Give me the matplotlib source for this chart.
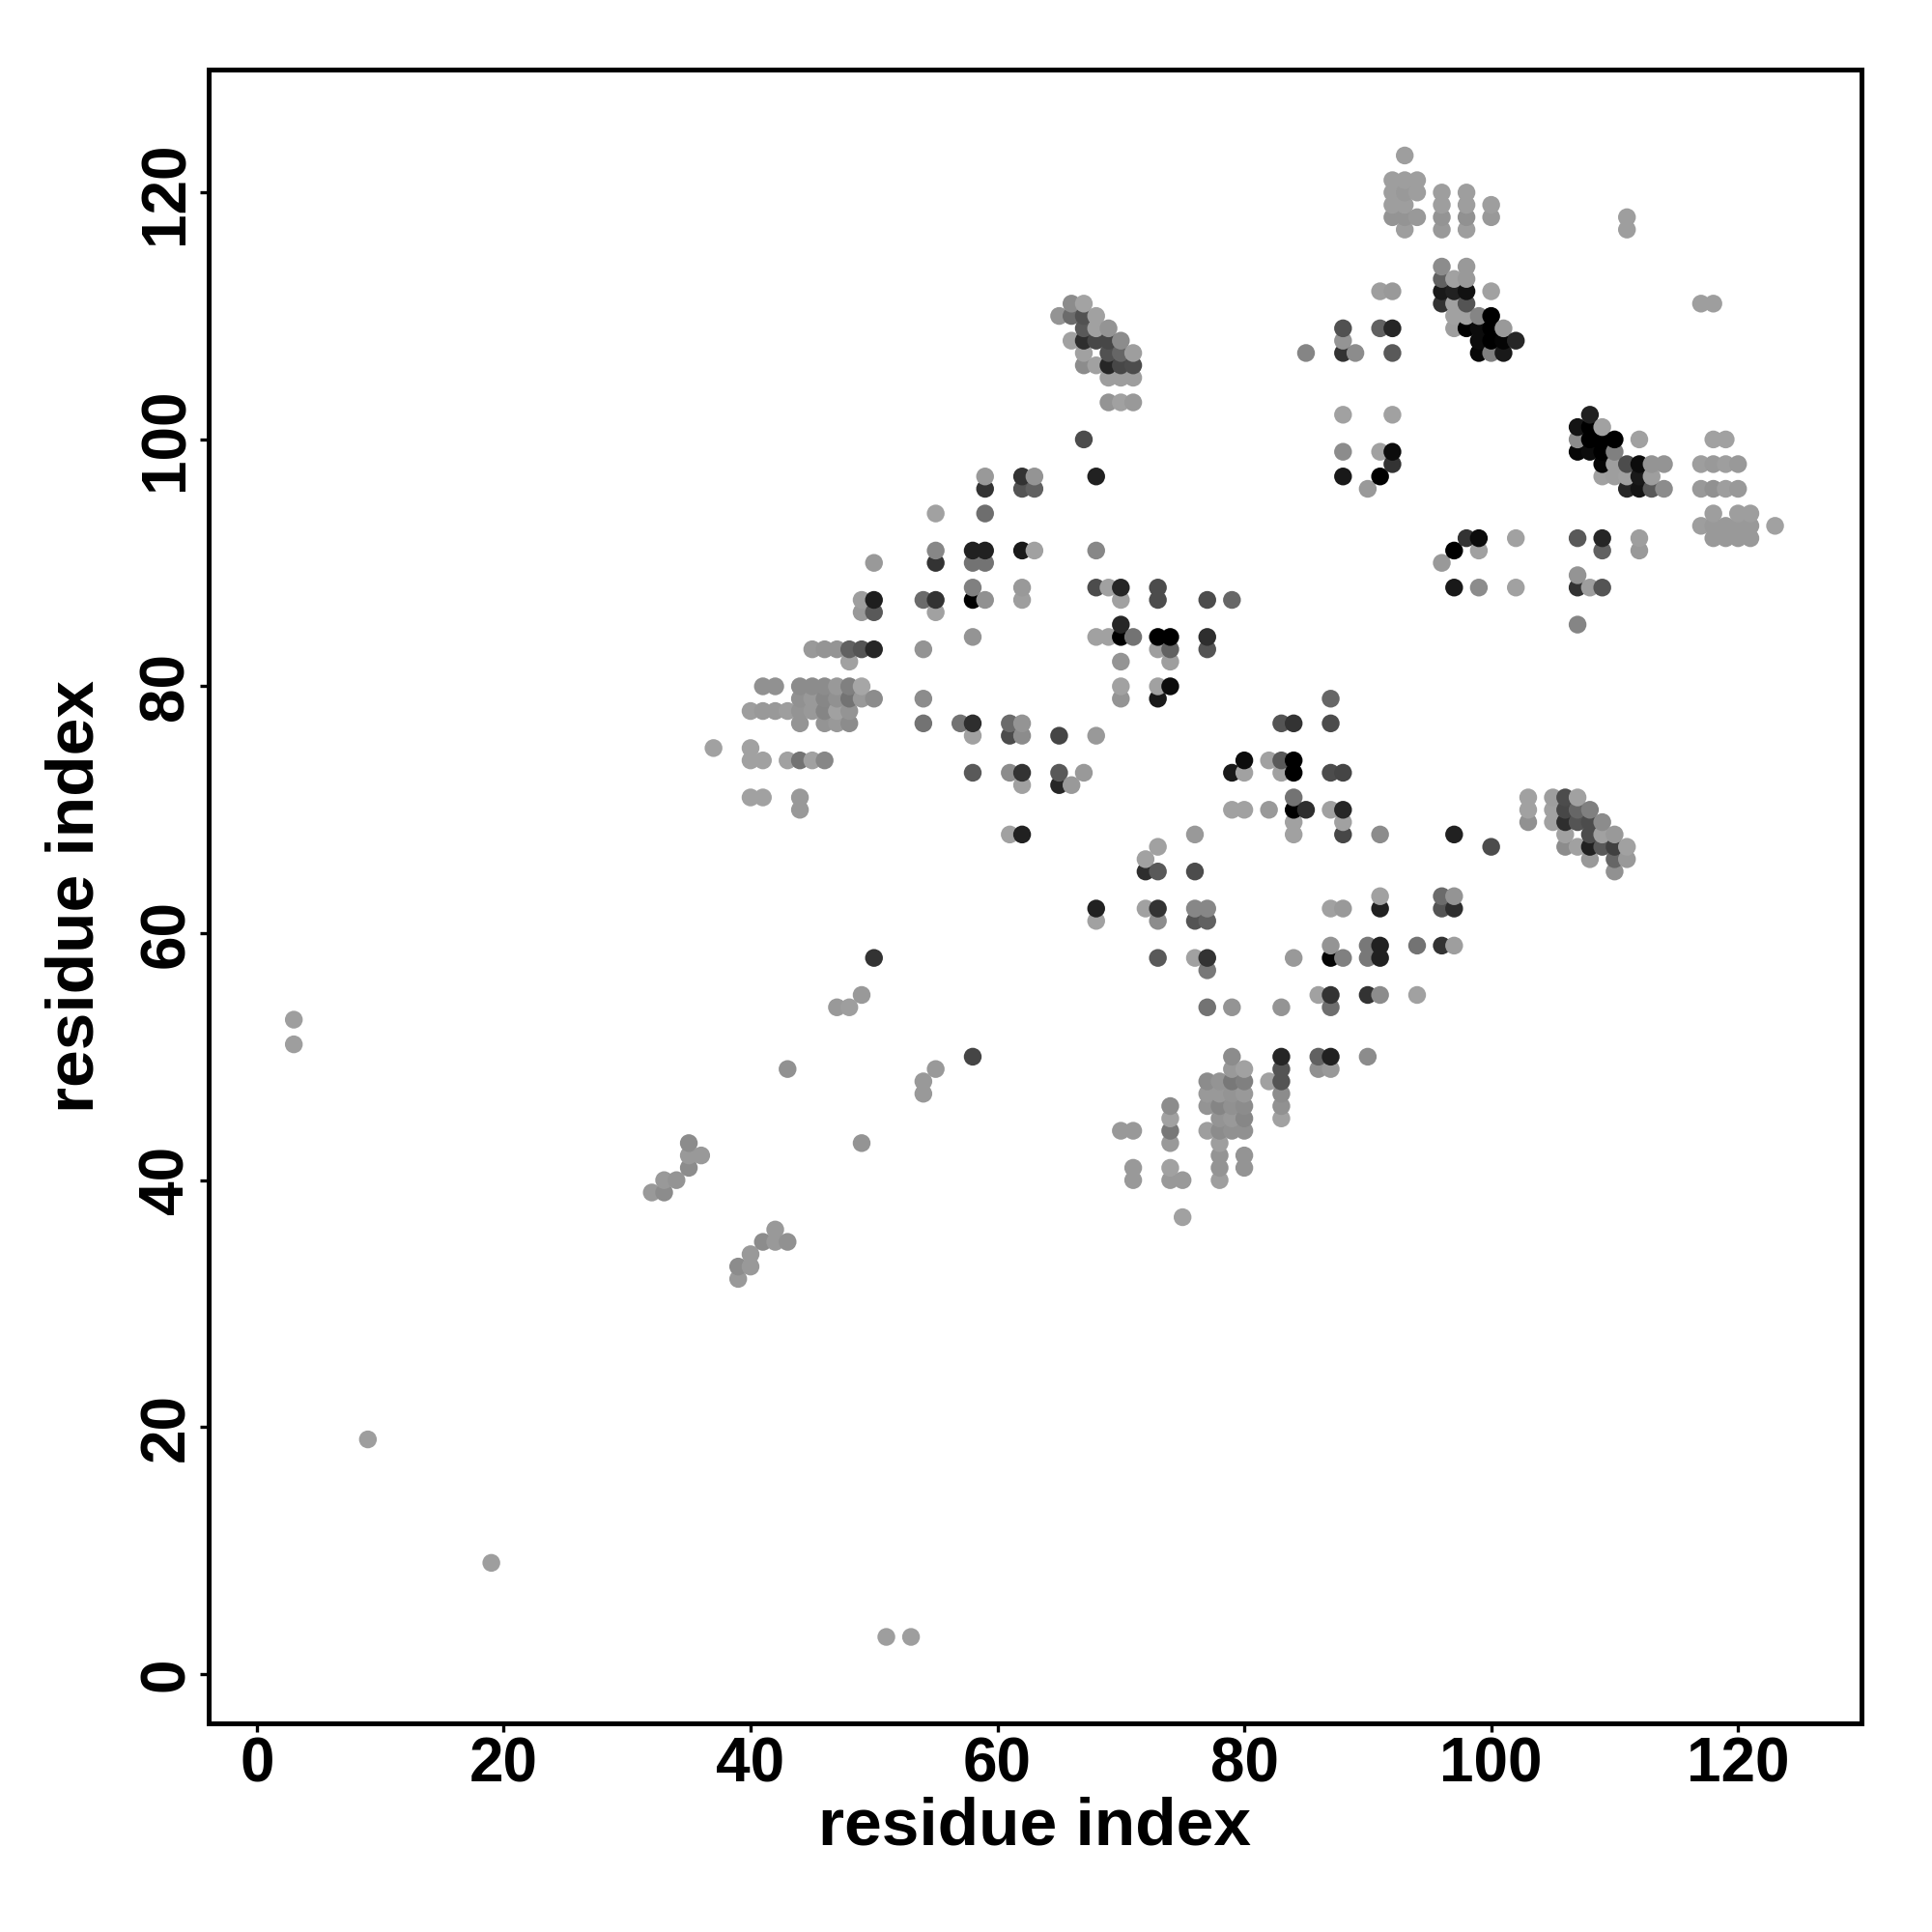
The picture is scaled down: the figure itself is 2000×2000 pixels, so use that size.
import numpy as np
import matplotlib
matplotlib.use("Agg")
import matplotlib.pyplot as plt

plt.rcParams["font.family"] = ["Liberation Sans", "DejaVu Sans"]
plt.rcParams["font.weight"] = "bold"

TICKS = [0, 20, 40, 60, 80, 100, 120]
AXIS_LABEL = "residue index"

# (residue i, residue j, grey level)
contacts_far = [
    (3, 53, .62), (3, 51, .62), (9, 19, .62), (19, 9, .62), (51, 3, .62), (53, 3, .62),
    (50, 58, .2), (58, 50, .27), (43, 49, .57), (47, 54, .6), (48, 54, .62), (49, 55, .6),
    (55, 49, .6), (54, 48, .6), (54, 47, .6), (49, 43, .58),
    (35, 43, .55), (35, 42, .6), (36, 42, .6), (35, 41, .55), (33, 40, .6), (34, 40, .58),
    (32, 39, .6), (33, 39, .55), (42, 36, .6), (41, 35, .55), (42, 35, .6), (43, 35, .57),
    (40, 34, .6), (39, 33, .55), (40, 33, .6), (39, 32, .6),
]
contacts_helix_a = [
    (49, 87, .62), (49, 86, .6), (50, 87, .12), (50, 86, .35), (50, 90, .6),
    (45, 83, .6), (46, 83, .58), (47, 83, .58), (48, 83, .38), (49, 83, .33), (50, 83, .15),
    (48, 82, .63), (41, 80, .57), (42, 80, .57), (44, 80, .55), (45, 80, .55), (46, 80, .55),
    (47, 80, .6), (48, 80, .5), (49, 80, .65), (44, 79, .57), (45, 79, .6), (46, 79, .53),
    (47, 79, .57), (48, 79, .45), (49, 79, .6), (50, 79, .55), (40, 78, .62), (41, 78, .6),
    (42, 78, .6), (43, 78, .62), (44, 78, .58), (45, 78, .6), (46, 78, .52), (47, 78, .63),
    (48, 78, .58), (44, 77, .58), (46, 77, .58), (47, 77, .6), (48, 77, .55),
    (37, 75, .63), (40, 75, .63), (40, 74, .63), (41, 74, .63), (43, 74, .63), (44, 74, .45),
    (45, 74, .63), (46, 74, .53), (40, 71, .63), (41, 71, .63), (44, 71, .6), (44, 70, .6),
]
contacts_mid_a = [
    (54, 87, .42), (55, 87, .2), (55, 86, .63), (58, 87, .0), (59, 87, .57), (62, 87, .62),
    (58, 84, .58), (54, 83, .58), (54, 79, .55), (54, 77, .45), (57, 77, .45), (58, 77, .18),
    (61, 77, .42), (62, 77, .58), (58, 76, .63), (61, 76, .3), (62, 76, .55), (65, 76, .27),
    (58, 73, .35), (61, 73, .55), (62, 73, .2), (65, 73, .35), (67, 73, .6), (62, 72, .63),
    (65, 72, .15), (66, 72, .6), (61, 68, .63), (62, 68, .13), (59, 97, .6), (62, 97, .2),
    (63, 97, .58), (59, 96, .2), (62, 96, .33), (63, 96, .38), (55, 94, .63), (59, 94, .43),
    (55, 91, .53), (58, 91, .13), (59, 91, .13), (62, 91, .1), (63, 91, .63), (55, 90, .2),
    (58, 90, .45), (59, 90, .45), (58, 88, .5), (62, 88, .6),
    (67, 100, .3), (68, 97, .13), (68, 91, .53), (68, 88, .3), (69, 88, .63), (70, 88, .15),
    (73, 88, .3), (70, 87, .63), (73, 87, .3), (77, 87, .3), (79, 87, .4), (70, 85, .15),
    (68, 84, .63), (69, 84, .63), (70, 84, .0), (71, 84, .45), (73, 84, .0), (74, 84, .0),
    (77, 84, .18), (73, 83, .62), (74, 83, .38), (77, 83, .33), (70, 82, .58), (74, 82, .62),
    (70, 80, .63), (73, 80, .63), (74, 80, .05), (70, 79, .58), (73, 79, .1), (68, 76, .6),
]
contacts_hairpin_a = [
    (66, 111, .55), (67, 111, .64), (65, 110, .58), (66, 110, .42), (67, 110, .32),
    (68, 110, .63), (67, 109, .35), (68, 109, .63), (69, 109, .58), (66, 108, .63),
    (67, 108, .18), (68, 108, .28), (69, 108, .28), (70, 108, .55), (67, 107, .63),
    (69, 107, .32), (70, 107, .4), (71, 107, .62), (67, 106, .55), (68, 106, .63),
    (69, 106, .15), (70, 106, .28), (71, 106, .3), (69, 105, .62), (70, 105, .62),
    (71, 105, .62), (69, 103, .58), (70, 103, .63), (71, 103, .6),
]
contacts_top = [
    (93, 123, .62), (92, 121, .62), (93, 121, .62), (94, 121, .62), (92, 120, .62),
    (93, 120, .6), (94, 120, .62), (96, 120, .62), (98, 120, .62), (92, 119, .62),
    (93, 119, .62), (96, 119, .62), (98, 119, .62), (100, 119, .62), (92, 118, .58),
    (93, 118, .58), (94, 118, .6), (96, 118, .58), (98, 118, .57), (100, 118, .6),
    (93, 117, .62), (96, 117, .6), (98, 117, .62), (111, 118, .62), (111, 117, .62),
    (117, 111, .62), (118, 111, .62),
    (96, 114, .55), (98, 114, .6), (96, 113, .38), (97, 113, .63), (98, 113, .6),
    (91, 112, .62), (92, 112, .6), (96, 112, .1), (97, 112, .13), (98, 112, .07),
    (100, 112, .63), (96, 111, .2), (97, 111, .63), (98, 111, .33), (97, 110, .63),
    (98, 110, .63), (99, 110, .52), (100, 110, .0), (88, 109, .32), (91, 109, .38),
    (92, 109, .15), (97, 109, .62), (98, 109, .0), (99, 109, .05), (100, 109, .0),
    (101, 109, .6), (88, 108, .58), (99, 108, .05), (100, 108, .0), (101, 108, .02),
    (102, 108, .15), (85, 107, .52), (88, 107, .2), (89, 107, .55), (92, 107, .35),
    (99, 107, .03), (100, 107, .5), (101, 107, .1),
]
contacts_upper_right = [
    (88, 102, .63), (92, 102, .63), (88, 99, .55), (91, 99, .63), (92, 99, .05), (92, 98, .2),
    (88, 97, .1), (91, 97, .0), (90, 96, .6), (108, 102, .13), (107, 101, .08), (108, 101, .0),
    (109, 101, .63), (107, 100, .55), (108, 100, .0), (109, 100, .0), (110, 100, .0),
    (112, 100, .63), (107, 99, .03), (108, 99, .05), (109, 99, .0), (110, 99, .5),
    (109, 98, .02), (110, 98, .62), (111, 98, .3), (112, 98, .05), (113, 98, .58),
    (114, 98, .58), (109, 97, .63), (110, 97, .62), (111, 97, .63), (112, 97, .1),
    (113, 97, .62), (111, 96, .15), (112, 96, .08), (113, 96, .35), (114, 96, .55),
    (118, 100, .63), (119, 100, .63), (117, 98, .62), (118, 98, .6), (119, 98, .62),
    (120, 98, .6), (117, 96, .6), (118, 96, .57), (119, 96, .62), (120, 96, .6),
    (118, 94, .62), (120, 94, .62), (121, 94, .62), (117, 93, .62), (118, 93, .6),
    (119, 93, .6), (120, 93, .6), (121, 93, .6), (123, 93, .63), (118, 92, .6), (119, 92, .6),
    (120, 92, .6), (121, 92, .6), (98, 92, .2), (99, 92, .05), (102, 92, .63), (97, 91, .0),
    (99, 91, .63), (96, 90, .6), (97, 88, .1), (99, 88, .55), (102, 88, .63), (107, 92, .35),
    (109, 92, .15), (112, 92, .62), (109, 91, .38), (112, 91, .6), (107, 89, .58),
    (107, 88, .2), (108, 88, .62), (109, 88, .33), (107, 85, .52),
]
contacts_mid_b = [
    (87, 79, .4), (83, 77, .33), (84, 77, .2), (87, 77, .3), (80, 74, .05), (82, 74, .63),
    (83, 74, .35), (84, 74, .0), (79, 73, .1), (80, 73, .63), (83, 73, .63), (84, 73, .0),
    (87, 73, .3), (88, 73, .27), (84, 71, .45), (79, 70, .63), (80, 70, .63), (82, 70, .6),
    (84, 70, .0), (85, 70, .18), (87, 70, .63), (88, 70, .15), (84, 69, .63), (88, 69, .63),
    (76, 68, .6), (84, 68, .63), (88, 68, .28), (91, 68, .55), (97, 68, .13), (100, 67, .3),
    (73, 67, .63), (72, 66, .63), (72, 65, .18), (73, 65, .35), (76, 65, .3), (91, 63, .63),
    (96, 63, .42), (97, 63, .58), (68, 62, .13), (72, 62, .63), (73, 62, .2), (76, 62, .53),
    (77, 62, .53), (87, 62, .63), (88, 62, .6), (91, 62, .13), (96, 62, .33), (97, 62, .18),
    (68, 61, .63), (73, 61, .55), (76, 61, .33), (77, 61, .38), (87, 59, .58), (90, 59, .47),
    (91, 59, .13), (94, 59, .45), (96, 59, .2), (97, 59, .62), (73, 58, .35), (76, 58, .63),
    (77, 58, .2), (84, 58, .6), (87, 58, .02), (88, 58, .5), (90, 58, .47), (91, 58, .13),
    (77, 57, .47), (86, 55, .63), (87, 55, .2), (90, 55, .2), (91, 55, .55), (94, 55, .63),
    (77, 54, .45), (79, 54, .58), (83, 54, .58), (87, 54, .43),
]
contacts_hairpin_b = [
    (103, 71, .63), (103, 70, .63), (103, 69, .57), (105, 71, .62), (105, 70, .63),
    (105, 69, .63), (106, 71, .3), (106, 70, .28), (106, 69, .18), (107, 71, .63),
    (107, 70, .4), (107, 69, .33), (108, 70, .5), (108, 69, .3), (108, 68, .3),
    (109, 69, .55), (106, 68, .63), (106, 67, .55), (107, 67, .63), (108, 67, .13),
    (109, 68, .63), (110, 68, .6), (109, 67, .35), (110, 67, .25), (111, 67, .63),
    (108, 66, .6), (110, 66, .4), (111, 66, .6), (110, 65, .57),
]
contacts_lower = [
    (79, 50, .55), (83, 50, .15), (86, 50, .38), (87, 50, .13), (90, 50, .55), (79, 49, .6),
    (80, 49, .63), (83, 49, .33), (86, 49, .57), (87, 49, .6), (77, 48, .55), (78, 48, .58),
    (79, 48, .47), (80, 48, .5), (82, 48, .63), (83, 48, .33), (77, 47, .6), (78, 47, .6),
    (79, 47, .58), (80, 47, .6), (83, 47, .55), (74, 46, .55), (77, 46, .58), (78, 46, .52),
    (79, 46, .57), (80, 46, .55), (83, 46, .57), (74, 45, .63), (78, 45, .58), (79, 45, .6),
    (80, 45, .53), (83, 45, .63), (70, 44, .6), (71, 44, .6), (74, 44, .47), (77, 44, .62),
    (78, 44, .55), (79, 44, .57), (80, 44, .57), (74, 43, .6), (78, 43, .62), (78, 42, .58),
    (80, 42, .58), (71, 41, .6), (74, 41, .63), (78, 41, .58), (80, 41, .58), (71, 40, .6),
    (74, 40, .6), (75, 40, .6), (78, 40, .62), (75, 37, .63),
]

contacts = np.array(contacts_far + contacts_helix_a + contacts_mid_a + contacts_hairpin_a
                    + contacts_top + contacts_upper_right + contacts_mid_b
                    + contacts_hairpin_b + contacts_lower)
# points are layered by x then y in the original
contacts = contacts[np.lexsort((contacts[:, 1], contacts[:, 0]))]

fig = plt.figure(figsize=(10, 10), dpi=200)
ax = fig.add_axes([0.108, 0.108, 0.8555, 0.85625])

ax.scatter(contacts[:, 0], contacts[:, 1], c=contacts[:, 2], cmap="gray", vmin=0, vmax=1,
           s=44, linewidths=0, clip_on=True)

ax.set_xlim(-3.9, 130)
ax.set_ylim(-4, 130)
ax.set_xticks(TICKS)
ax.set_yticks(TICKS)
ax.tick_params(axis="both", direction="out", length=3.2, width=1.2, labelsize=23, pad=1.5)
for label in ax.get_yticklabels():
    label.set_rotation(90)
    label.set_verticalalignment("center")
for spine in ax.spines.values():
    spine.set_linewidth(1.8)

fig.text(0.5355, 0.0545, AXIS_LABEL, ha="center", va="center", fontsize=25, fontweight="bold")
fig.text(0.0395, 0.536, AXIS_LABEL, ha="center", va="center", rotation=90, fontsize=25,
         fontweight="bold")

fig.savefig("out.png", dpi=200, facecolor="white")
